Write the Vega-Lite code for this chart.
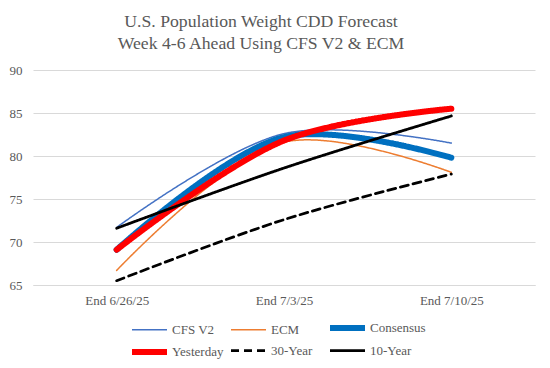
{
  "$schema": "https://vega.github.io/schema/vega-lite/v6.json",
  "autosize": "none",
  "width": 502,
  "height": 215,
  "padding": {"left": 33, "top": 70, "right": 15, "bottom": 83},
  "background": "white",
  "config": {
    "view": {"stroke": null},
    "font": "Liberation Serif",
    "legend": {"rowPadding": 0}
  },
  "title": {
    "text": ["U.S. Population Weight CDD Forecast", "Week 4-6 Ahead Using CFS V2 & ECM"],
    "font": "Liberation Serif",
    "fontSize": 17.7,
    "fontWeight": "normal",
    "color": "#595959",
    "lineHeight": 22.5,
    "anchor": "middle",
    "dx": -23,
    "offset": 11
  },
  "data": {
    "values": [
      {"series": "CFS V2", "week": "End 6/26/25", "cdd": 71.7},
      {"series": "CFS V2", "week": "End 7/3/25", "cdd": 82.6},
      {"series": "CFS V2", "week": "End 7/10/25", "cdd": 81.5},
      {"series": "ECM", "week": "End 6/26/25", "cdd": 66.7},
      {"series": "ECM", "week": "End 7/3/25", "cdd": 81.6},
      {"series": "ECM", "week": "End 7/10/25", "cdd": 78.1},
      {"series": "Consensus", "week": "End 6/26/25", "cdd": 69.1},
      {"series": "Consensus", "week": "End 7/3/25", "cdd": 82.2},
      {"series": "Consensus", "week": "End 7/10/25", "cdd": 79.8},
      {"series": "Yesterday", "week": "End 6/26/25", "cdd": 69.1},
      {"series": "Yesterday", "week": "End 7/3/25", "cdd": 81.8},
      {"series": "Yesterday", "week": "End 7/10/25", "cdd": 85.5},
      {"series": "30-Year", "week": "End 6/26/25", "cdd": 65.5},
      {"series": "30-Year", "week": "End 7/3/25", "cdd": 72.6},
      {"series": "30-Year", "week": "End 7/10/25", "cdd": 77.9},
      {"series": "10-Year", "week": "End 6/26/25", "cdd": 71.6},
      {"series": "10-Year", "week": "End 7/3/25", "cdd": 78.6},
      {"series": "10-Year", "week": "End 7/10/25", "cdd": 84.65}
    ]
  },
  "mark": {"type": "line", "interpolate": "catmull-rom", "strokeCap": "round"},
  "encoding": {
    "x": {
      "field": "week",
      "type": "ordinal",
      "sort": ["End 6/26/25", "End 7/3/25", "End 7/10/25"],
      "scale": {"type": "point", "padding": 0.5},
      "axis": {
        "title": null,
        "labelAngle": 0,
        "labelFont": "Liberation Serif",
        "labelFontSize": 13,
        "labelColor": "#595959",
        "labelPadding": 9,
        "ticks": false,
        "tickSize": 0,
        "domain": true,
        "domainColor": "#d9d9d9",
        "grid": false
      }
    },
    "y": {
      "field": "cdd",
      "type": "quantitative",
      "scale": {"domain": [65, 90], "nice": false, "zero": false},
      "axis": {
        "title": null,
        "values": [65, 70, 75, 80, 85, 90],
        "labelFont": "Liberation Serif",
        "labelFontSize": 13,
        "labelColor": "#595959",
        "labelPadding": 11,
        "ticks": false,
        "tickSize": 0,
        "domain": false,
        "grid": true,
        "gridColor": "#d9d9d9",
        "gridWidth": 1
      }
    },
    "color": {
      "field": "series",
      "type": "nominal",
      "sort": ["CFS V2", "ECM", "Consensus", "Yesterday", "30-Year", "10-Year"],
      "scale": {
        "domain": ["CFS V2", "ECM", "Consensus", "Yesterday", "30-Year", "10-Year"],
        "range": ["#4472C4", "#ED7D31", "#0070C0", "#FF0000", "#000000", "#000000"]
      },
      "legend": {
        "title": null,
        "orient": "none",
        "legendX": 96,
        "legendY": 250,
        "direction": "horizontal",
        "columns": 3,
        "gridAlign": "all",
        "columnPadding": -10,
        "rowPadding": 0,
        "symbolType": "M-1,0H6",
        "symbolSize": 100,
        "labelFont": "Liberation Serif",
        "labelFontSize": 13,
        "labelColor": "#595959",
        "labelOffset": 27,
        "labelBaseline": "middle",
        "padding": 0
      }
    },
    "strokeDash": {
      "field": "series",
      "type": "nominal",
      "scale": {
        "domain": ["CFS V2", "ECM", "Consensus", "Yesterday", "30-Year", "10-Year"],
        "range": [[1, 0], [1, 0], [1, 0], [1, 0], [8, 5], [1, 0]]
      }
    },
    "strokeWidth": {
      "field": "series",
      "type": "nominal",
      "scale": {
        "type": "ordinal",
        "domain": ["CFS V2", "ECM", "Consensus", "Yesterday", "30-Year", "10-Year"],
        "range": [1.5, 1.5, 6, 6, 2.75, 2.75]
      }
    },
    "order": {"field": "series"}
  }
}
